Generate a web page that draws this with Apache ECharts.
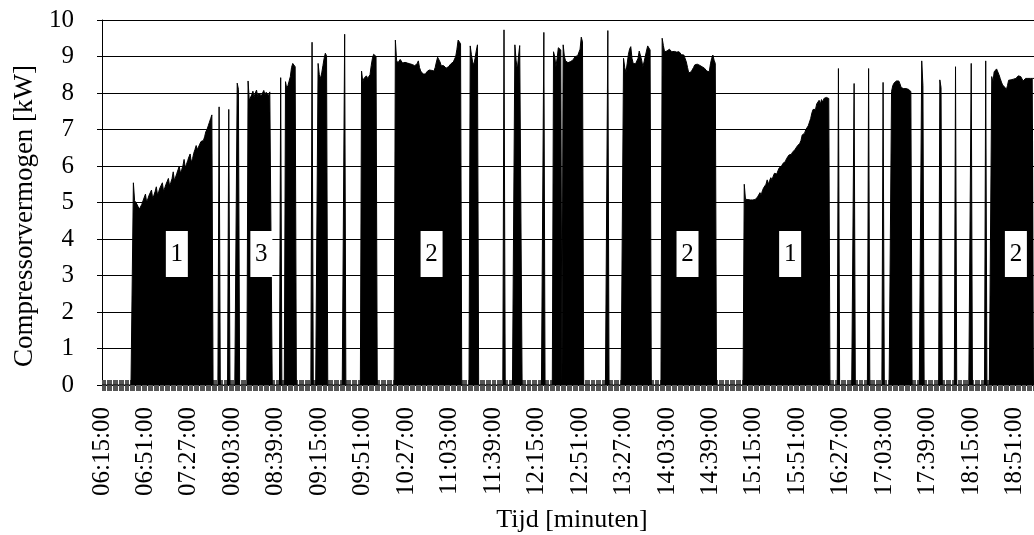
<!DOCTYPE html>
<html><head><meta charset="utf-8">
<script src="https://cdn.jsdelivr.net/npm/echarts@6/dist/echarts.min.js"></script>
<style>html,body{margin:0;padding:0;background:#fff}#c{width:1034px;height:535px}</style>
</head><body><div id="c"></div>
<script>
// ---- data ----
const startTime = "06:15";
const endTime = "19:07";
const yTickMin = 0, yTickMax = 10, yTickStep = 1;
const xLabelEvery = 36; // minutes between x labels

// compressor on-periods: [start time, per-minute power in kW]; all other minutes are 0
const runA = ["06:41", [5.54,5.05,5.0,4.95,4.88,4.82,4.79,4.95,5.05,5.1,5.23,5.0,5.1,5.2,5.25,5.34,5.1,5.2,5.3,5.43,5.2,5.3,5.4,5.45,5.54,5.3,5.4,5.5,5.58,5.66,5.45,5.55,5.65,5.84,5.6,5.7,5.8,5.9,6.0,5.8,5.9,6.0,6.18,5.95,6.05,6.15,6.25,6.33,6.1,6.2,6.35,6.45,6.56,6.45,6.5,6.6,6.67,6.65,6.7,6.8,6.94,7.0,7.1,7.2,7.3,7.4]];
const runB = ["07:52", [7.62]];
const runC = ["08:00", [7.55]];
const runD = ["08:07", [8.27,8.1]];
const runE = ["08:16", [8.33,7.8,7.85,7.95,8.05,7.9,8.0,8.08,7.9,8.0,8.05,7.92,8.0,8.07,7.95,8.02,8.05,7.93,8.03,7.98]];
const runF = ["08:43", [8.42]];
const runG = ["08:47", [8.31,8.13,8.2,8.15,8.45,8.7,8.81,8.78,8.72]];
const runH = ["09:09", [9.39]];
const runI = ["09:14", [8.81,8.5,8.4,8.55,8.75,8.95,9.09,9.02]];
const runJ = ["09:36", [9.61]];
const runK = ["09:50", [8.6,8.31,8.4,8.35,8.47,8.4,8.45,8.5,8.75,8.95,9.06,9.05,9.0]];
const runL = ["10:18", [9.45,8.9,8.82,8.86,8.92,8.9,8.82,8.8,8.84,8.8,8.82,8.78,8.8,8.8,8.78,8.8,8.75,8.78,8.8,8.88,8.7,8.6,8.55,8.52,8.55,8.52,8.58,8.6,8.63,8.6,8.62,8.58,8.6,8.7,8.85,8.98,8.95,8.85,8.75,8.72,8.75,8.7,8.68,8.7,8.72,8.75,8.8,8.82,8.85,8.9,9.0,9.2,9.45,9.5,9.35]];
const runM = ["11:20", [9.29,9.05,8.85,8.77,8.95,9.15,9.32]];
const runN = ["11:48", [9.73]];
const runO = ["11:57", [9.32,8.9,8.63,9.0,9.3,9.32]];
const runP = ["12:21", [9.66]];
const runQ = ["12:29", [9.13,9.0,8.72,8.95,9.24,9.2,9.18]];
const runR = ["12:37", [9.32,9.0,8.88,8.85,8.83,8.83,8.86,8.88,8.9,8.95,9.0,9.0,9.02,9.05,9.2,9.53,9.4]];
const runS = ["13:14", [9.71]];
const runT = ["13:27", [8.95,8.7,8.56,8.8,9.05,9.2,9.27,8.95,8.81,8.82,8.8,8.81,8.95,9.15,9.18,8.9,8.72,8.85,9.0,9.15,9.29,9.25,9.18]];
const runU = ["13:59", [9.5,9.3,9.13,9.16,9.15,9.18,9.2,9.15,9.13,9.13,9.14,9.13,9.12,9.13,9.13,9.1,9.05,9.04,9.04,9.0,8.85,8.7,8.55,8.52,8.58,8.63,8.7,8.77,8.79,8.79,8.78,8.76,8.74,8.72,8.7,8.68,8.65,8.6,8.58,8.58,8.8,8.95,9.04,8.9,8.81]];
const runV = ["15:07", [5.5,5.09,5.07,5.08,5.06,5.07,5.09,5.07,5.1,5.08,5.12,5.15,5.2,5.27,5.2,5.32,5.4,5.35,5.5,5.62,5.5,5.6,5.68,5.62,5.72,5.8,5.84,5.78,5.88,5.95,5.9,6.0,6.07,6.02,6.12,6.2,6.15,6.3,6.25,6.32,6.38,6.42,6.45,6.5,6.55,6.58,6.62,6.7,6.85,6.8,6.9,7.0,7.05,7.1,7.15,7.3,7.45,7.55,7.6,7.55,7.7,7.75,7.8,7.7,7.82,7.75,7.85,7.8,7.88,7.92,7.85]];
const runW = ["16:25", [8.67]];
const runX = ["16:38", [8.26]];
const runY = ["16:50", [8.67]];
const runZ = ["17:02", [8.29]];
const runAA = ["17:09", [8.04,8.2,8.27,8.3,8.33,8.28,8.33,8.25,8.15,8.18,8.12,8.1,8.12,8.08,8.1,8.06,8.04]];
const runAB = ["17:34", [8.88,8.2]];
const runAC = ["17:49", [8.36,8.15]];
const runAD = ["18:02", [8.72]];
const runAE = ["18:15", [8.81]];
const runAF = ["18:27", [8.88]];
const runAG = ["18:32", [8.45,8.3,8.58,8.62,8.66,8.64,8.5,8.4,8.3,8.22,8.25,8.15,8.08,8.2,8.35,8.38,8.36,8.4,8.38,8.42,8.4,8.45,8.47,8.49,8.45,8.4,8.33,8.35,8.4,8.42,8.4,8.42,8.4,8.42,8.4,8.4]];
const runs = [runA,runB,runC,runD,runE,runF,runG,runH,runI,runJ,runK,runL,runM,runN,runO,runP,runQ,runR,runS,runT,runU,runV,runW,runX,runY,runZ,runAA,runAB,runAC,runAD,runAE,runAF,runAG];

// numbered text boxes
const boxTimes = ["07:17","08:27","10:48","14:20","15:45","18:52"];
const boxTexts = ["1","3","2","2","1","2"];
const boxLevel = [3.59,3.59,3.59,3.59,3.59,3.59];

// ---- build ----
const toMin = t => { const [h,m] = t.split(":").map(Number); return h*60+m; };
const fmt = m => String(Math.floor(m/60)).padStart(2,"0")+":"+String(m%60).padStart(2,"0")+":00";
const m0 = toMin(startTime), m1 = toMin(endTime);
const categories = [];
for (let m = m0; m <= m1; m++) categories.push(fmt(m));
const power = categories.map(() => 0);
runs.forEach(([t, vals]) => { const s = toMin(t) - m0; vals.forEach((v,k) => { power[s+k] = v; }); });

const serif = '"Liberation Serif","Times New Roman",serif';
const chart = echarts.init(document.getElementById('c'), null, {renderer:'canvas'});
chart.setOption({
  animation:false,
  grid:{left:102, right:0, top:20, bottom:150, containLabel:false},
  xAxis:[{
    type:'category', data:categories, boundaryGap:false, position:'bottom',
    axisLine:{lineStyle:{color:'#000', width:1}},
    axisTick:{show:true, interval:0, length:6, lineStyle:{color:'#555', width:1}},
    axisLabel:{interval:xLabelEvery-1, rotate:90, margin:22, fontFamily:serif, fontSize:25, color:'#000', hideOverlap:false},
    splitLine:{show:false}
  },{
    type:'category', data:categories, boundaryGap:false, position:'bottom', offset:0,
    axisLine:{show:false},
    axisTick:{show:true, inside:true, interval:0, length:5, lineStyle:{color:'#555', width:1}},
    axisLabel:{show:false}, splitLine:{show:false}
  }],
  yAxis:{
    type:'value', min:yTickMin, max:yTickMax, interval:yTickStep,
    axisLine:{show:true, lineStyle:{color:'#000', width:1}},
    axisTick:{show:true, length:5, lineStyle:{color:'#000'}},
    axisLabel:{margin:28, fontFamily:serif, fontSize:25, color:'#000'},
    splitLine:{show:true, lineStyle:{color:'#000', width:1}}
  },
  graphic:[
    {type:'text', x:25, y:216, rotation:Math.PI/2, style:{text:'Compressorvermogen [kW]', font:'27px "Liberation Serif"', fill:'#000', align:'center', verticalAlign:'middle'}},
    {type:'text', x:572, y:520, style:{text:'Tijd [minuten]', font:'26px "Liberation Serif"', fill:'#000', align:'center', verticalAlign:'middle'}}
  ],
  series:[{
    type:'line', data:power, xAxisIndex:0, symbol:'none', showSymbol:false, sampling:null,
    lineStyle:{color:'#000', width:1}, areaStyle:{color:'#000', opacity:1},
    markPoint:{
      symbol:'rect', symbolSize:[22,46], itemStyle:{color:'#fff'},
      label:{show:true, position:'inside', color:'#000', fontFamily:serif, fontSize:25, formatter:'{b}'},
      data: boxTimes.map((t,i) => ({name:boxTexts[i], coord:[fmt(toMin(t)), boxLevel[i]]}))
    }
  }]
});
</script></body></html>
